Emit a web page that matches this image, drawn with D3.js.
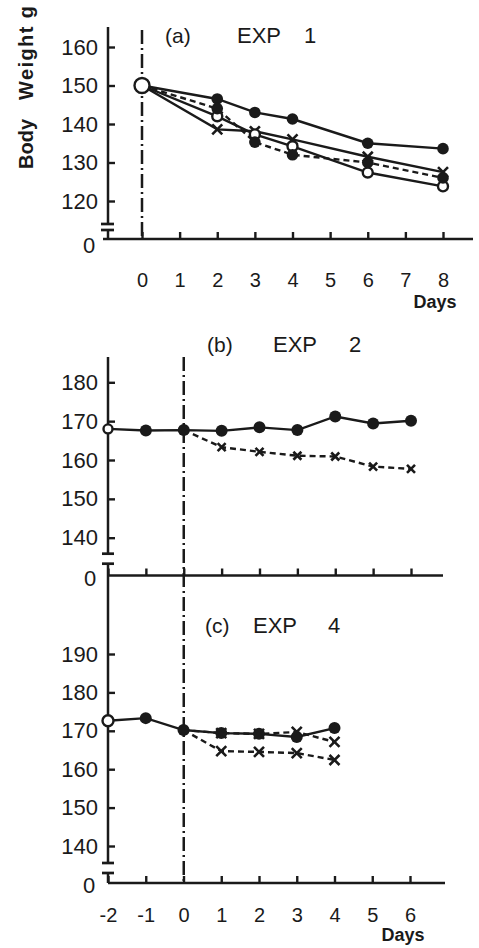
<!DOCTYPE html>
<html>
<head>
<meta charset="utf-8">
<script src="https://cdn.jsdelivr.net/npm/d3@7"></script>
<style>
  html, body { margin: 0; padding: 0; background: #fff; }
  svg { display: block; }
  text { fill: #1a1a1a; font-family: "Liberation Sans", Arial, sans-serif; }
</style>
</head>
<body>
<svg id="chart" width="479" height="948"></svg>
<script>
// ---- data ----
// (a) EXP 1
const daysA = [0, 2, 3, 4, 6, 8];
const aFilledSolid  = [150, 146.5, 143, 141.3, 135, 133.6];
const aCrossSolid   = [150, 138.6, 138.1, 136, 131.5, 127.5];
const aOpenSolid    = [150, 142, 137.3, 134.2, 127.4, 123.8];
const aFilledDashed = [150, 144, 135.3, 132, 130, 126];
const yTicksA = [120, 130, 140, 150, 160];
const xTicksA = [0, 1, 2, 3, 4, 5, 6, 7, 8];

// (b) EXP 2
const daysB = [-2, -1, 0, 1, 2, 3, 4, 5, 6];
const bFilledSolid = [168, 167.6, 167.7, 167.5, 168.4, 167.7, 171.2, 169.4, 170.1];
const daysBx = [0, 1, 2, 3, 4, 5, 6];
const bCrossDashed = [167.7, 163.3, 162.1, 161.1, 160.9, 158.3, 157.7];
const yTicksB = [140, 150, 160, 170, 180];

// (c) EXP 4
const daysC = [-2, -1, 0, 1, 2, 3, 4];
const cFilledSolid = [172.6, 173.3, 170.2, 169.4, 169.2, 168.4, 170.7];
const daysCx = [0, 1, 2, 3, 4];
const cCrossUpper = [170.2, 169.4, 169.2, 169.7, 167.1];
const cCrossLower = [170.2, 164.7, 164.5, 164.2, 162.4];
const yTicksC = [140, 150, 160, 170, 180, 190];
const xTicksBC = [-2, -1, 0, 1, 2, 3, 4, 5, 6];

const ink = "#1a1a1a";
const svg = d3.select("#chart");

// scales for each panel
const xA = d3.scaleLinear().domain([0, 8]).range([142, 443]);
const yA = d3.scaleLinear().domain([120, 160]).range([201, 47]);
const xB = d3.scaleLinear().domain([-2, 6]).range([108, 411]);
const yB = d3.scaleLinear().domain([140, 180]).range([537.7, 382.3]);
const xC = d3.scaleLinear().domain([-2, 6]).range([108, 410]);
const yC = d3.scaleLinear().domain([140, 190]).range([846, 654]);

const axisYA = 239, axisYB = 575.5, axisYC = 883;

function styleAxis(g, size) {
    g.attr("font-family", null).attr("font-size", null);
    g.selectAll("line").attr("stroke", ink).attr("stroke-width", 2.4);
    g.selectAll("text").style("font-size", size + "px");
    g.select(".domain").remove();
}

function yAxis(x, y, ticks, x0) {
    svg.append("g")
        .attr("transform", `translate(${x0},0)`)
        .call(d3.axisLeft(y).tickValues(ticks).tickSize(-7).tickPadding(10).tickFormat(d => String(d)))
        .call(g => styleAxis(g, 22));
}

function xAxis(x, ticks, yPos, pad, labels) {
    // plain hyphen for negative days, as in the figure
    const ax = d3.axisBottom(x).tickValues(ticks).tickSize(-7).tickPadding(pad)
        .tickFormat(labels ? d => String(d) : "");
    svg.append("g")
        .attr("transform", `translate(0,${yPos})`)
        .call(ax)
        .call(g => styleAxis(g, 20));
}

function line(points, dashed, width) {
    svg.append("path")
        .attr("d", d3.line()(points))
        .attr("fill", "none")
        .attr("stroke", ink)
        .attr("stroke-width", width || 2.4)
        .attr("stroke-dasharray", dashed ? "6,4" : null);
}

function marker(p, type, r) {
    if (type === "filled") {
        svg.append("circle").attr("cx", p[0]).attr("cy", p[1]).attr("r", r).attr("fill", ink);
    } else if (type === "open") {
        svg.append("circle").attr("cx", p[0]).attr("cy", p[1]).attr("r", r)
            .attr("fill", "#fff").attr("stroke", ink).attr("stroke-width", 2.4);
    } else {
        svg.append("path")
            .attr("d", `M${p[0] - r},${p[1] - r}L${p[0] + r},${p[1] + r}M${p[0] + r},${p[1] - r}L${p[0] - r},${p[1] + r}`)
            .attr("stroke", ink).attr("stroke-width", 2.6).attr("fill", "none");
    }
}

function series(x, y, days, vals, dashed, type, r, from) {
    const pts = days.map((d, i) => [x(d), y(vals[i])]);
    line(pts, dashed);
    return () => pts.slice(from).forEach(p => marker(p, type, r));
}

function vline(x, y0, y1, dash) {
    svg.append("line").attr("x1", x).attr("x2", x).attr("y1", y0).attr("y2", y1)
        .attr("stroke", ink).attr("stroke-width", 2.5)
        .attr("stroke-dasharray", dash || null);
}

function hline(x0, x1, y, w) {
    svg.append("line").attr("x1", x0).attr("x2", x1).attr("y1", y).attr("y2", y)
        .attr("stroke", ink).attr("stroke-width", w || 2.7);
}

function label(x, y, txt, size, opts) {
    const t = svg.append("text").attr("x", x).attr("y", y).style("font-size", size + "px").text(txt);
    if (opts && opts.anchor) t.attr("text-anchor", opts.anchor);
    if (opts && opts.bold) t.style("font-weight", "bold");
    return t;
}

// ---------- panel (a) ----------
const y0A = xA.range()[0] - 34;  // y axis x position (108)
vline(y0A, 27, yA(120) + 23);
vline(y0A, yA(120) + 29, axisYA);
hline(y0A - 7, y0A + 6, yA(120) + 23);
hline(y0A - 7, y0A + 6, yA(120) + 29);
hline(y0A - 5, 473, axisYA);
vline(xA(0), 30, axisYA, "14,4,2,4");
yAxis(xA, yA, yTicksA, y0A);
xAxis(xA, xTicksA, axisYA, 34, true);
label(89, axisYA + 14, "0", 22, { anchor: "middle" });

const mA = [
    series(xA, yA, daysA, aFilledSolid, false, "filled", 5.8, 1),
    series(xA, yA, daysA, aCrossSolid, false, "cross", 5, 1),
    series(xA, yA, daysA, aOpenSolid, false, "open", 5, 1),
    series(xA, yA, daysA, aFilledDashed, true, "filled", 5.8, 1)
];
mA.forEach(f => f());
marker([xA(daysA[0]), yA(aOpenSolid[0])], "open", 7.5);

label(165, 43, "(a)", 21);
label(237, 43, "EXP", 22);
label(304, 43, "1", 22);
label(435, 308, "Days", 18, { anchor: "middle", bold: true });

svg.append("text")
    .attr("transform", "translate(33,144) rotate(-90)")
    .attr("text-anchor", "middle")
    .style("font-size", "20px").style("font-weight", "bold")
    .text("Body");
svg.append("text")
    .attr("transform", "translate(33,53) rotate(-90)")
    .attr("text-anchor", "middle")
    .attr("textLength", 94)
    .style("font-size", "20px").style("font-weight", "bold")
    .text("Weight g");

// ---------- panels (b) and (c): shared left axis ----------
const x0BC = xB(-2);
vline(x0BC, 357, yB(140) + 16);
vline(x0BC, yB(140) + 26, yC(140) + 17);
vline(x0BC, yC(140) + 27, axisYC);
hline(x0BC - 6, x0BC + 6, yB(140) + 16);
hline(x0BC - 6, x0BC + 6, yB(140) + 26);
hline(x0BC - 6, x0BC + 6, yC(140) + 17);
hline(x0BC - 6, x0BC + 6, yC(140) + 27);
vline(xB(0), 357, axisYC, "14,4,2,4");

// ---------- panel (b) ----------
hline(x0BC, 443, axisYB);
yAxis(xB, yB, yTicksB, x0BC);
xAxis(xB, xTicksBC, axisYB, 0, false);
label(90, axisYB + 10, "0", 22, { anchor: "middle" });

const mB = [
    series(xB, yB, daysB, bFilledSolid, false, "filled", 6, 1),
    series(xB, yB, daysBx, bCrossDashed, true, "cross", 4, 1)
];
mB.forEach(f => f());
marker([xB(daysB[0]), yB(bFilledSolid[0])], "open", 4.5);

label(207, 352, "(b)", 21);
label(273, 352, "EXP", 22);
label(349, 352, "2", 22);

// ---------- panel (c) ----------
hline(x0BC, 445, axisYC);
yAxis(xC, yC, yTicksC, x0BC);
xAxis(xC, xTicksBC, axisYC, 25, true);
label(89, axisYC + 10, "0", 22, { anchor: "middle" });

const mC = [
    series(xC, yC, daysC, cFilledSolid, false, "filled", 6, 1),
    series(xC, yC, daysCx, cCrossUpper, true, "cross", 5, 1),
    series(xC, yC, daysCx, cCrossLower, true, "cross", 5, 1)
];
mC.forEach(f => f());
marker([xC(daysC[0]), yC(cFilledSolid[0])], "open", 5.5);

label(205, 633, "(c)", 21);
label(253, 633, "EXP", 22);
label(328, 633, "4", 22);
label(403, 941, "Days", 18, { anchor: "middle", bold: true });
</script>
</body>
</html>
